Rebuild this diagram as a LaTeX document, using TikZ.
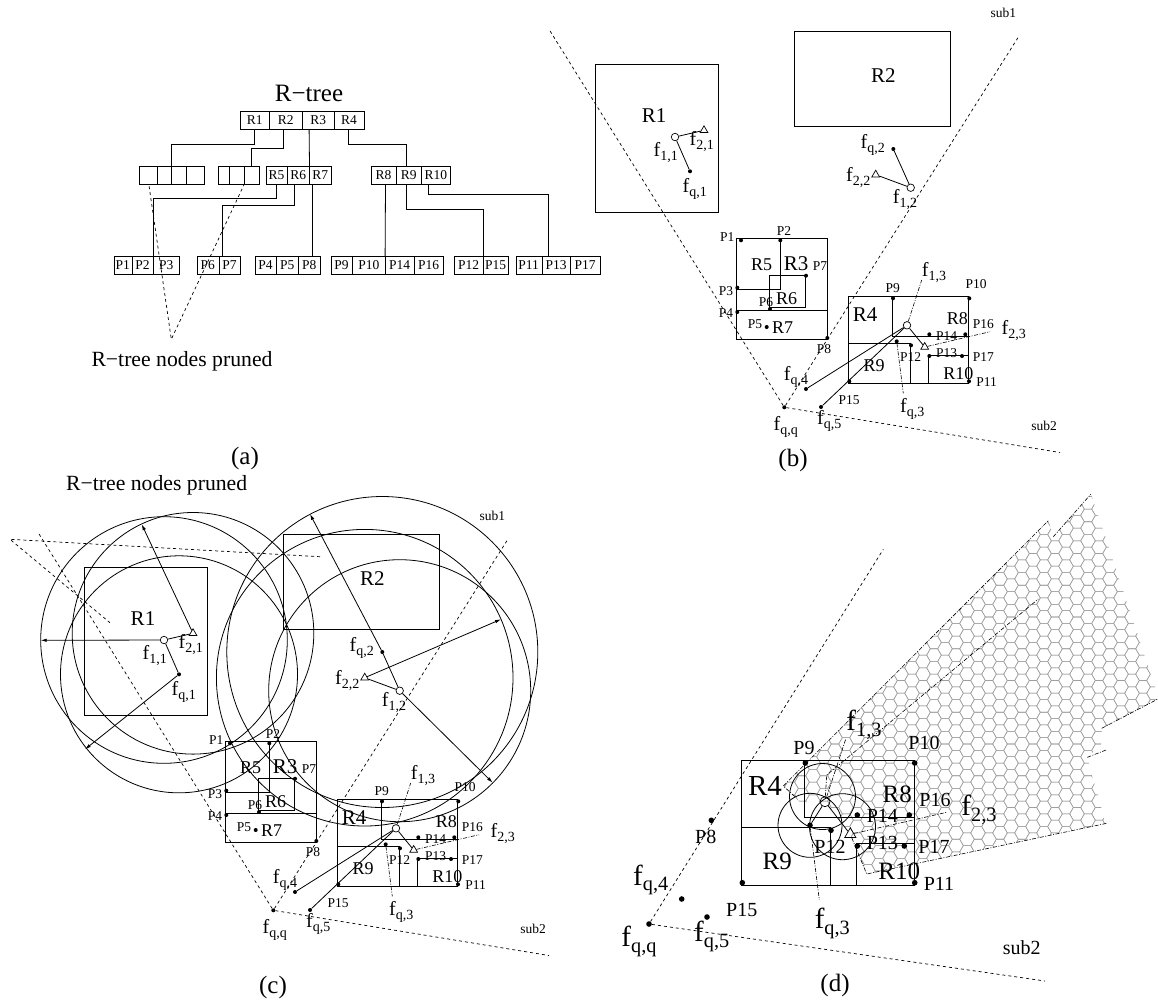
\documentclass[tikz,border=0pt]{standalone}
\usepackage{fontspec}
\setmainfont{Liberation Serif}
\usetikzlibrary{arrows.meta,shapes.geometric}
\newcommand{\fl}[1]{f\raisebox{-.2em}{\scalebox{.7}{#1}}}
\tikzset{
  cell/.style={draw,inner sep=0pt,minimum height=18pt,font=\fontsize{13.5}{14}\selectfont},
  conn/.style={line width=.8pt},
  box/.style={line width=.8pt},
  wedge/.style={line width=.7pt,dash pattern=on 3pt off 3pt},
  dotdash/.style={line width=.6pt,dash pattern=on 4pt off 1.5pt on 1pt off 1.5pt},
  pt/.style={circle,fill,inner sep=0pt,minimum size=4pt},
  ring/.style={circle,draw,line width=.7pt,inner sep=0pt,minimum size=7.5pt},
  tri/.style={regular polygon,regular polygon sides=3,draw,line width=.7pt,inner sep=0pt,minimum size=9pt},
  ptbig/.style={circle,fill,inner sep=0pt,minimum size=5.6pt},
  ringbig/.style={circle,draw,line width=.7pt,inner sep=0pt,minimum size=10pt},
  tribig/.style={regular polygon,regular polygon sides=3,draw,line width=.7pt,inner sep=0pt,minimum size=13pt},
  plab/.style={inner sep=0pt,font=\fontsize{13.5}{14}\selectfont},
  rlab/.style={inner sep=0pt,font=\fontsize{18}{18}\selectfont},
  rbig/.style={inner sep=0pt,font=\fontsize{21}{21}\selectfont},
  flab/.style={inner sep=0pt,font=\fontsize{20}{20}\selectfont},
  pbig/.style={inner sep=0pt,font=\fontsize{20}{20}\selectfont},
  fbig/.style={inner sep=0pt,font=\fontsize{29}{29}\selectfont},
  title/.style={inner sep=0pt,font=\fontsize{25}{25}\selectfont},
  prune/.style={inner sep=0pt,font=\fontsize{21.7}{22}\selectfont},
  hexline/.style={gray!75,line width=.55pt},
  arr/.style={line width=.8pt,-{Latex[length=6pt,width=3.5pt]}}
}
\newcommand{\subscene}{
  \draw[box] (595.3,64.3) rectangle (718.3,212.7);
  \draw[box] (794.7,31.7) rectangle (950.3,126);
  \draw[box] (736.7,238.3) rectangle (827.3,339.3);
  \draw[box] (736.7,238.3) rectangle (780.3,289);
  \draw[box] (769.3,275) rectangle (805.3,307.3);
  \draw[box] (736.7,310.7) rectangle (827.3,339.3);
  \draw[box] (848.7,296) rectangle (968.7,383.3);
  \draw[box] (892.7,296) rectangle (968.7,336);
  \draw[box] (848.7,343.3) rectangle (910.7,383.3);
  \draw[box] (928.7,355) rectangle (968.7,383.3);
  \foreach \nm/\x/\y in {P1/741/240.3,P2/780.3/240.3,P3/737.3/287.7,P4/737.3/312,P5/766.7/327,
      P6/770/309,P7/806/275.7,P8/827.3/338,P9/893/298.3,P10/969.3/298.3,P14/929.3/334.3,
      P16/965.3/334.3,P13/929.3/356,P17/962/356,P12/911/345.3,P15/849.3/381.3,P11/969/381.3}
    \node[pt] (\nm) at (\x,\y) {};
  \foreach \nm/\x/\y in {P1/727.3/236.7,P2/784/230.7,P3/726/290.7,P4/726/312.7,P5/755/324,
      P6/766/301.7,P7/820/266,P8/824/349.3,P9/892.7/288.3,P10/976/284.3,P14/946.7/335.7,
      P16/983.3/324.3,P13/946.7/353.3,P17/983.3/357,P12/910.7/357.3,P15/849/400,P11/986.7/382}
    \node[plab] (l\nm) at (\x,\y) {\nm};
  \foreach \nm/\x/\y in {R5/761.7/265,R6/786.7/298.3,R7/782.7/327.3,R8/957.3/319,R9/874/366,R10/958.3/374}
    \node[rlab] (l\nm) at (\x,\y) {\nm};
  \foreach \nm/\x/\y in {R1/654/115.7,R2/883.3/76,R3/796/264,R4/865/315}
    \node[rbig] (l\nm) at (\x,\y) {\nm};
  \node[pt] (fqq) at (784.3,407.3) {};
  \coordinate (tipa) at (549,29.3);
  \coordinate (tipb) at (1019,36);
  \coordinate (tipc) at (1060,452.5);
  \draw[wedge] (fqq) -- (tipa);
  \draw[wedge] (fqq) -- (tipb);
  \draw[wedge] (fqq) -- (tipc);
  \node[ring] (f11) at (675,137) {};
  \node[tri] (f21) at (704,130.3) {};
  \node[pt] (fq1) at (690,171.3) {};
  \draw[conn] (f11) -- (f21);
  \draw[conn] (f11) -- (fq1);
  \node[ring] (f12) at (910.7,187.7) {};
  \node[tri] (f22) at (875.7,174.7) {};
  \node[pt] (fq2) at (893.3,149) {};
  \draw[conn] (f12) -- (f22);
  \draw[conn] (f12) -- (fq2);
  \node[ring] (f13) at (907,325.3) {};
  \node[tri] (f23) at (924.7,347) {};
  \node[pt] (fq3) at (896.7,341.3) {};
  \node[pt] (fq4) at (806,389) {};
  \node[pt] (fq5) at (821,407) {};
  \draw[conn] (f13) -- (f23);
  \draw[conn] (f13) -- (fq4);
  \draw[conn] (f13) -- (fq5);
  \coordinate (enda) at (921.7,280);
  \coordinate (endb) at (903.3,393.3);
  \coordinate (endc) at (990,331.7);
  \draw[dotdash] (f13) -- (enda);
  \draw[dotdash] (fq3) -- (endb);
  \draw[dotdash] (f23) -- (endc);
  \node[flab] (lf11) at (665.7,152.3) {\fl{1,1}};
  \node[flab] (lf21) at (701.7,141.7) {\fl{2,1}};
  \node[flab] (lfq1) at (694.7,189) {\fl{q,1}};
  \node[flab] (lfq2) at (872.7,145) {\fl{q,2}};
  \node[flab] (lf22) at (858.3,178) {\fl{2,2}};
  \node[flab] (lf12) at (905,200) {\fl{1,2}};
  \node[flab] (lf13) at (934,272.3) {\fl{1,3}};
  \node[flab] (lf23) at (1013.7,331) {\fl{2,3}};
  \node[flab] (lfq3) at (912.3,409) {\fl{q,3}};
  \node[flab] (lfq4) at (796,376.7) {\fl{q,4}};
  \node[flab] (lfq5) at (829.3,421) {\fl{q,5}};
  \node[flab] (lfqq) at (785.7,427.3) {\fl{q,q}};
  \node[plab] (lsuba) at (1003.3,12.7) {sub1};
  \node[plab] (lsubb) at (1044,426) {sub2};
}
\begin{document}
\begin{tikzpicture}[x=1pt,y=-1pt]
  \useasboundingbox (0,0) rectangle (1158,1005);
  \node[inner sep=0pt,font=\fontsize{25}{25}\selectfont] (tree) at (309,93) {R−tree};
  \foreach \yy/\row in {120.5/{c1/240.3/269.3/R1,c2/269.3/302.3/R2,c3/302.3/334.3/R3,c4/334.3/363.7/R4},
      175/{e1/138.7/157/{},e2/157/171.3/{},e3/171.3/186/{},e4/186/204.3/{},g1/218.3/229.3/{},g2/229.3/244/{},g3/244/258.7/{},
        c5/265.7/287.3/R5,c6/287.3/309.3/R6,c7/309.3/331/R7,c8/370.7/396.3/R8,c9/396.3/421.3/R9,c10/421.3/450.3/R10},
      265.3/{p1/113.7/131.7/P1,p2/131.7/153.3/P2,p3/153.3/179/P3,p6/197/218.7/P6,p7/218.7/240.3/P7,
        p4/254.7/276.3/P4,p5/276.3/298.3/P5,p8/298.3/320/P8,p9/330.7/352.3/P9,p10/352.3/385.3/P10,p14/385.3/414/P14,p16/414/443.3/P16,
        p12/454/483/P12,p15/483/508.3/P15,p11/515.7/541.7/P11,p13/541.7/570.3/P13,p17/570.3/599.7/P17}}
    \foreach \nm/\xa/\xb/\lab in \row
      \node[cell,minimum width=\xb-\xa] (\nm) at ({(\xa+\xb)/2},\yy) {\lab};
  \draw[conn] (c1.south) -- ++(0,14.7) -| (e2.north east);
  \draw[conn] ([xshift=-2pt]c2.south) -- ++(0,18.4) -| (g3.north);
  \draw[conn] ([xshift=7pt]c3.south west) -- (c6.north east);
  \draw[conn] ([xshift=-.5pt]c4.south) -- ++(0,14.7) -| ([xshift=-2pt]c9.north);
  \draw[conn] (c5.south) -- ++(0,14) -| (p2.north east);
  \draw[conn] ([xshift=-3.5pt]c6.south) -- ++(0,21.4) -| ([xshift=3.6pt]p7.north west);
  \draw[conn] ([xshift=3.4pt]c7.south west) -- ([xshift=14.4pt]p8.north west);
  \draw[conn] ([xshift=2pt]c8.south) -- (p14.north west);
  \draw[conn] ([xshift=-2pt]c9.south) -- ++(0,25) -| (p12.north east);
  \draw[conn] ([xshift=-7pt]c10.south) -- ++(0,10.4) -| ([xshift=6.6pt]p13.north west);
  \coordinate (pr) at (171.3,339.3);
  \draw[wedge] ([xshift=10.6pt,yshift=-2pt]e1.south west) -- (pr) -- ([yshift=-1pt]g3.south west);
  \node[prune] (pruneA) at (182,361.7) {R−tree nodes pruned};
  \node[title] (capA) at (245,458) {(a)};
  \subscene
  \node[title] (capB) at (793,460) {(b)};
  \begin{scope}[shift={(-511,503)}]
    \subscene
  \end{scope}
  \node[prune] (pruneC) at (156.7,485.7) {R−tree nodes pruned};
  \coordinate (va) at (10,539.3);
  \coordinate (vb) at (320,556.7);
  \coordinate (vc) at (110,622.7);
  \draw[wedge] (vb) -- (va) -- (vc);
  \draw[conn] (f11.center) circle [radius=123.3pt];
  \draw[conn] (f21.center) circle [radius=120.8pt];
  \draw[conn] (fq1.center) circle [radius=118.5pt];
  \draw[conn] (f12.center) circle [radius=131pt];
  \draw[conn] (f22.center) circle [radius=148.3pt];
  \draw[conn] (fq2.center) circle [radius=155.5pt];
  \coordinate (ea) at (40.7,640.3);
  \coordinate (eb) at (141.7,524.3);
  \coordinate (ec) at (85,749.3);
  \coordinate (ed) at (492.7,782.7);
  \coordinate (ee) at (501,619.3);
  \coordinate (ef) at (310,514);
  \draw[arr] (f11) -- (ea);
  \draw[arr] (f21) -- (eb);
  \draw[arr] (fq1) -- (ec);
  \draw[arr] (f12) -- (ed);
  \draw[arr] (f22) -- (ee);
  \draw[arr] (fq2) -- (ef);
  \node[title] (capC) at (273,987) {(c)};
  \begin{scope}
    \clip (783.3,786) -- (1048.3,520.7) -- (1053.3,537) -- (1091,494) -- (1155,687) -- (1157.3,699.3)
      -- (1101.7,728.3) -- (1101,745) -- (1087.3,757.3) -- (1093,780) -- (1099,797) -- (1103,817)
      -- (1106.7,823.3) -- (866.7,874) -- (850.3,834.3) -- (825,802) -- (800,802) -- cycle;
    \foreach \cc in {0,...,35}{
      \pgfmathsetmacro\hx{780+11*\cc}
      \pgfmathsetmacro\hy{490+6.35*mod(\cc,2)}
      \foreach \rr in {0,...,31}
        \draw[hexline] (\hx,{\hy+12.7*\rr}) ++(7.33,0) -- ++(-3.67,6.35) -- ++(-7.33,0) -- ++(-3.67,-6.35)
          -- ++(3.67,-6.35) -- ++(7.33,0) -- cycle;
    }
  \end{scope}
  \draw[box] (741.7,760.3) rectangle (914,885);
  \draw[box] (804,760.3) rectangle (914,817.3);
  \draw[box] (741.7,827.3) rectangle (830,885);
  \draw[box] (856,843.7) rectangle (914,885);
  \node[ptbig] (dfqq) at (649,924) {};
  \coordinate (dtipa) at (883.3,549.3);
  \coordinate (dtipc) at (1045,981);
  \draw[wedge] (dfqq) -- (dtipa);
  \draw[wedge] (dfqq) -- (dtipc);
  \foreach \nm/\x/\y in {dP8/711.3/820.3,dP9/805.3/763,dP10/914.7/763,dP14/857.3/815,dP16/909.3/815,
      dP13/857.3/846,dP17/904.3/846,dP12/831/830.3,dP15/742.3/882.7,dP11/914.7/882.7,dfq4/681.7/899,dfq5/707/917}
    \node[ptbig] (\nm) at (\x,\y) {};
  \node[ringbig] (df13) at (825,801.7) {};
  \node[tribig] (df23) at (850.3,834.3) {};
  \node[ptbig] (dfq3) at (810,825.3) {};
  \draw[conn] (df13) -- (df23);
  \draw[conn] (df13) -- (dfq3);
  \draw[conn] (822.5,796.5) circle [radius=33pt];
  \draw[conn] (dfq3.center) circle [radius=32pt];
  \draw[conn] (842.5,826.7) circle [radius=33pt];
  \coordinate (dea) at (846,738.3);
  \coordinate (deb) at (819.3,900);
  \coordinate (dec) at (946.7,812.3);
  \draw[dotdash] (df13) -- (dea);
  \draw[dotdash] (dfq3) -- (deb);
  \draw[dotdash] (df23) -- (dec);
  \coordinate (ha) at (783.3,786);
  \coordinate (hb) at (1048.3,520.7);
  \coordinate (hc) at (795,796.7);
  \coordinate (hd) at (826.7,775);
  \coordinate (he) at (1038.3,599);
  \coordinate (hf) at (866.7,874);
  \coordinate (hg) at (1106.7,823.3);
  \coordinate (hh) at (1101.7,728.3);
  \coordinate (hi) at (1157.3,699.3);
  \coordinate (hj) at (1087.3,757.3);
  \coordinate (hk) at (1106,750);
  \coordinate (hl) at (1053.3,536.7);
  \coordinate (hm) at (1091,494);
  \draw[dotdash] (hc) -- (ha) -- (hb);
  \draw[dotdash] (df13) -- (hd) -- (he);
  \draw[dotdash] (df23) -- (hf) -- (hg);
  \draw[dotdash] (hh) -- (hi);
  \draw[dotdash] (hj) -- (hk);
  \draw[dotdash] (hl) -- (hm);
  \foreach \nm/\x/\y in {P8/705.7/836.7,P9/804/748.3,P10/924/742.7,P16/935/800,P14/882.3/816,
      P13/882.3/842.7,P17/934/846.7,P12/830/846.7,P11/939/884,P15/741.7/910}
    \node[pbig] (d\nm) at (\x,\y) {\nm};
  \node[pbig] (dsub) at (1021.7,947.7) {sub2};
  \node[fbig] (dR4) at (765,786) {R4};
  \node[inner sep=0pt,font=\fontsize{25}{25}\selectfont] (dR8) at (897.3,794) {R8};
  \node[inner sep=0pt,font=\fontsize{25}{25}\selectfont] (dR9) at (777.3,861.7) {R9};
  \node[inner sep=0pt,font=\fontsize{25}{25}\selectfont] (dR10) at (899.3,871.7) {R10};
  \node[fbig] (dlf13) at (864,725) {\fl{1,3}};
  \node[fbig] (dlf23) at (979,810) {\fl{2,3}};
  \node[fbig] (dlfq3) at (832.3,923.3) {\fl{q,3}};
  \node[fbig] (dlfq4) at (650.7,880) {\fl{q,4}};
  \node[fbig] (dlfq5) at (711.7,936.7) {\fl{q,5}};
  \node[fbig] (dlfqq) at (639,941.7) {\fl{q,q}};
  \node[title] (capD) at (835,985) {(d)};
\end{tikzpicture}
\end{document}
